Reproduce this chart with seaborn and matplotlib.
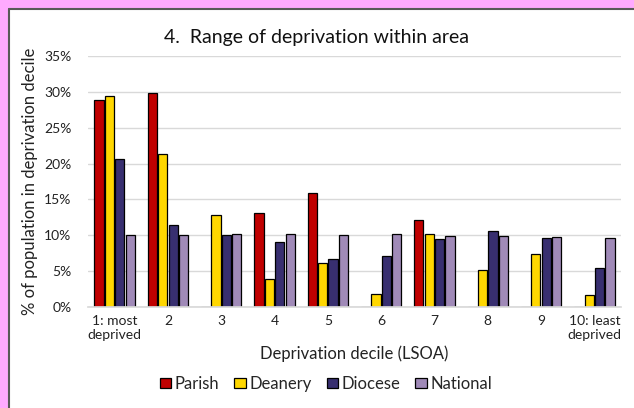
import matplotlib
matplotlib.use("Agg")
import matplotlib.pyplot as plt
import matplotlib.patches as mpatches
from matplotlib.lines import Line2D
import seaborn as sns
import pandas as pd

categories = ["1: most\ndeprived", "2", "3", "4", "5", "6", "7", "8", "9", "10: least\ndeprived"]
series_names = ["Parish", "Deanery", "Diocese", "National"]
parish   = [28.8, 29.9, 0.0, 13.1, 15.9, 0.0, 12.1, 0.0, 0.0, 0.0]
deanery  = [29.4, 21.4, 12.8, 3.9, 6.2, 1.8, 10.2, 5.2, 7.4, 1.7]
diocese  = [20.7, 11.4, 10.0, 9.0, 6.7, 7.1, 9.5, 10.6, 9.6, 5.5]
national = [10.0, 10.1, 10.2, 10.2, 10.1, 10.2, 9.9, 9.9, 9.7, 9.6]
yticks = [0, 5, 10, 15, 20, 25, 30, 35]
colors = ["#C00000", "#FFD700", "#382F70", "#A08AB8"]

rows = []
for name, vals in zip(series_names, [parish, deanery, diocese, national]):
    for c, v in zip(categories, vals):
        rows.append({"Decile": c, "Area": name, "Value": v})
df = pd.DataFrame(rows)

sns.set_theme(style="white")
plt.rcParams["font.family"] = ["Lato", "DejaVu Sans"]

W, H = 634, 408
fig = plt.figure(figsize=(W / 100, H / 100), dpi=100)
fig.patch.set_facecolor("white")
# pink surround (top and left strips) and grey panel border
fig.add_artist(mpatches.Rectangle((0, 1 - 8 / H), 1, 8 / H, transform=fig.transFigure,
                                  facecolor="#FFAAFF", edgecolor="none", zorder=-5))
fig.add_artist(mpatches.Rectangle((0, 0), 8 / W, 1, transform=fig.transFigure,
                                  facecolor="#FFAAFF", edgecolor="none", zorder=-5))
fig.add_artist(Line2D([8.5 / W, 8.5 / W], [0, 1 - 8.5 / H], transform=fig.transFigure,
                      color="#595959", linewidth=1.5, zorder=-4))
fig.add_artist(Line2D([8.5 / W, 1], [1 - 8.5 / H, 1 - 8.5 / H], transform=fig.transFigure,
                      color="#595959", linewidth=1.5, zorder=-4))

ax = fig.add_axes([88 / W, 1 - 307 / H, (621 - 88) / W, (307 - 56) / H])
ax.set_facecolor("none")
sns.barplot(data=df, x="Decile", y="Value", hue="Area", order=categories,
            hue_order=series_names, palette=colors, width=0.78, gap=0.12,
            edgecolor="black", linewidth=0.9, saturation=1, ax=ax, legend=True)

ax.set_ylim(0, 35)
ax.set_xlim(-0.5, 9.5)
ax.set_yticks(yticks)
ax.set_yticklabels([f"{t}%" for t in yticks], fontsize=10, color="#222222")
ax.tick_params(axis="x", labelsize=10, colors="#222222", length=0, pad=6)
ax.tick_params(axis="y", length=0, pad=12)
ax.yaxis.grid(True, color="#D9D9D9", linewidth=1)
ax.set_axisbelow(True)
for s in ["top", "right", "left"]:
    ax.spines[s].set_visible(False)
ax.spines["bottom"].set_color("#D9D9D9")
ax.set_xlabel("Deprivation decile (LSOA)", fontsize=12, color="#222222", labelpad=3)
ax.set_ylabel("% of population in deprivation decile", fontsize=12, color="#222222", labelpad=4)

fig.text(0.5, 1 - 37 / H, "4.  Range of deprivation within area", ha="center", va="center",
         fontsize=14, color="#111111")

handles, labels = ax.get_legend_handles_labels()
ax.legend_.remove()
fig.legend(handles, labels, loc="center", bbox_to_anchor=(0.514, 1 - 384 / H), ncol=4,
           frameon=False, fontsize=12, handlelength=0.7, handleheight=0.55,
           handletextpad=0.2, columnspacing=0.9)

fig.savefig("out.png", dpi=100, facecolor=fig.get_facecolor())
